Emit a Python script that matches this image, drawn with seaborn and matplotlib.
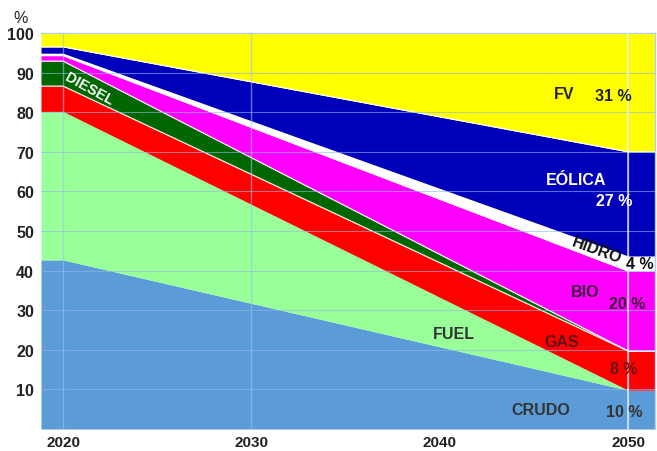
import numpy as np
import matplotlib
matplotlib.use("Agg")
import matplotlib.pyplot as plt
import seaborn as sns

# ---- data ----
years = [2020, 2050]
series = ["CRUDO", "FUEL", "GAS", "DIESEL", "BIO", "HIDRO", "EÓLICA", "FV"]
crudo = [42.7, 9.8]
fuel = [37.5, 0.0]
gas = [6.4, 9.9]
diesel = [6.3, 0.0]
bio = [1.4, 20.2]
hidro = [0.6, 3.8]
eolica = [1.6, 26.3]
fv = [3.5, 30.0]
pct_labels = ["10 %", "", "8 %", "", "20 %", "4 %", "27 %", "31 %"]
y_ticks = [10, 20, 30, 40, 50, 60, 70, 80, 90, 100]
x_ticks = [2020, 2030, 2040, 2050]

colors = ["#5b9bd7", "#99ff99", "#ff0000", "#006600", "#ff00ff",
          "#ffffff", "#0000bb", "#ffff00"]

sns.set_theme(style="white")
plt.rcParams["font.family"] = ["Liberation Sans", "DejaVu Sans"]

fig = plt.figure(figsize=(6.57, 4.52), dpi=100)
ax = fig.add_axes([41 / 657, 1 - 430 / 452, 614 / 657, 396 / 452])

xmin, xmax = 2018.83, 2051.43
ax.set_xlim(xmin, xmax)
ax.set_ylim(0, 100)

vals = [crudo, fuel, gas, diesel, bio, hidro, eolica, fv]
xs = [xmin] + years + [xmax]
ys = [[v[0]] + v + [v[-1]] for v in vals]
ax.stackplot(xs, *ys, colors=colors, linewidth=0, zorder=1)

# thin white separators between some layers
cum = np.cumsum(np.array(ys), axis=0)
for idx in [2, 3, 4, 6]:
    ax.plot(xs, cum[idx], color="white", lw=0.9, alpha=0.9, zorder=2)

# grid lines over the areas
for yv in y_ticks[:-1]:
    ax.axhline(yv, color="#8fb8e6", lw=0.8, alpha=0.6, zorder=3)
for xv in [2020, 2030, 2050]:
    ax.axvline(xv, color="#9cc2ea", lw=1.0, alpha=0.6, zorder=3)
ax.axvline(2050, color="white", lw=1.2, alpha=0.7, zorder=3)

ax.set_yticks(y_ticks)
ax.set_yticklabels([str(t) for t in y_ticks])
ax.set_xticks(x_ticks)
ax.set_xticklabels([str(t) for t in x_ticks])
ax.tick_params(axis="y", length=0, pad=5, labelsize=11.5, labelcolor="#222222")
ax.tick_params(axis="x", length=0, pad=4, labelsize=11, labelcolor="#222222")
for lab in ax.get_xticklabels() + ax.get_yticklabels():
    lab.set_fontweight("bold")

for s in ["left", "bottom"]:
    ax.spines[s].set_visible(False)
for s in ["top", "right"]:
    ax.spines[s].set_color("#b5d0ee")
    ax.spines[s].set_linewidth(1.0)
ax.grid(False)

ax.text(-0.034, 1.04, "%", transform=ax.transAxes, ha="center", va="center",
        fontsize=11.5, color="#222222")

fs = 11.5
kw = dict(fontsize=fs, fontweight="bold", ha="center", va="center", zorder=5)
# series names
ax.text(2021.4, 86.1, series[3], color="white", rotation=-29,
        **{**kw, "fontsize": 10.5})
ax.text(2046.6, 84.8, series[7], color="#222222", **kw)
ax.text(2047.25, 62.9, series[6], color="white", **kw)
ax.text(2048.35, 45.2, series[5], color="#111111", rotation=-20, **kw)
ax.text(2047.7, 34.6, series[4], color="#3a1a3a", **kw)
ax.text(2040.75, 24.2, series[1], color="#333333", **kw)
ax.text(2046.5, 22.2, series[2], color="#5a1515", **kw)
ax.text(2045.35, 4.8, series[0], color="#333333", **kw)
# percentages
ax.text(2049.2, 84.1, pct_labels[7], color="#222222", **kw)
ax.text(2049.25, 57.8, pct_labels[6], color="white", **kw)
ax.text(2050.65, 41.9, pct_labels[5], color="#111111", **kw)
ax.text(2049.95, 31.8, pct_labels[4], color="#3a1a3a", **kw)
ax.text(2049.75, 15.4, pct_labels[2], color="#6a1515", **kw)
ax.text(2049.8, 4.5, pct_labels[0], color="#333333", **kw)

fig.savefig("out.png", dpi=100)
